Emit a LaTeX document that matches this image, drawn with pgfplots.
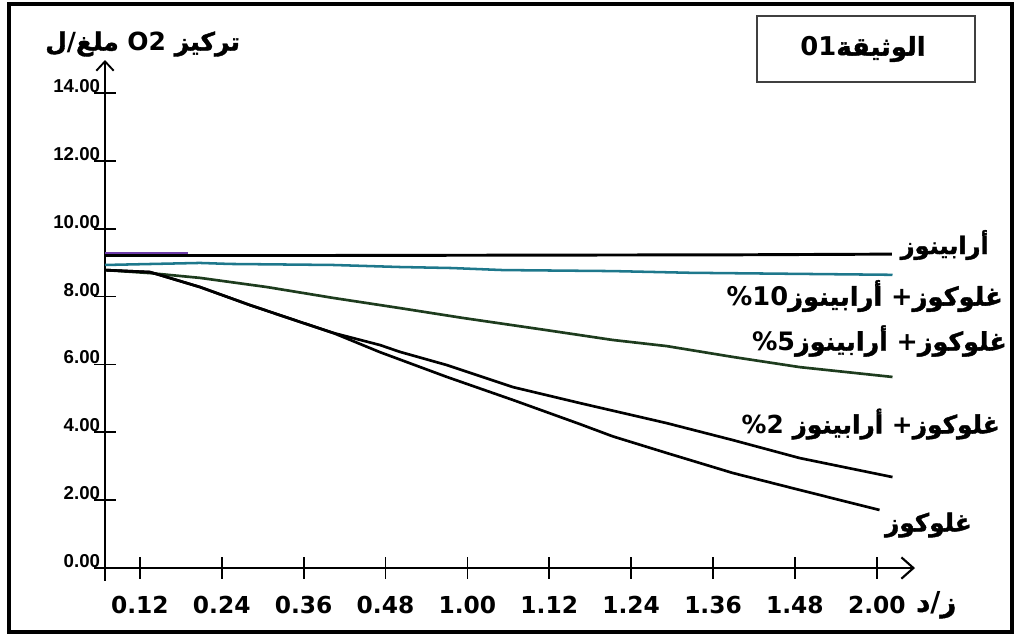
\documentclass[border=0pt]{standalone}
\usepackage{pgfplots}
\pgfplotsset{compat=1.18}
\usetikzlibrary{arrows.meta}
\usepackage{graphicx}
\usepackage{fontspec}
\setmainfont{DejaVu Sans}
\newfontfamily\ar[Script=Arabic, BoldFeatures={FakeBold=1.6}]{DejaVu Sans}
\newfontfamily\lib{Liberation Sans}
\newcommand{\AR}[1]{\mbox{\ar\bfseries #1}}
\newcommand{\PL}{\textbf{+}}
\definecolor{tealc}{RGB}{30,120,140}
\definecolor{greenc}{RGB}{30,60,30}
\definecolor{purplec}{RGB}{110,60,170}

\pgfplotstableread{
x y
6.89 9.21
40 9.21
70 9.22
100 9.23
122.2 9.25
}\arab
\pgfplotstableread{
x y
6.89 9.28
19 9.28
}\arabp
\pgfplotstableread{
x y
6.89 8.93
20.8 8.99
25.2 8.96
40.3 8.93
50.1 8.87
57.7 8.84
65.2 8.78
81.3 8.75
92.6 8.70
122.3 8.64
}\tenp
\pgfplotstableread{
x y
6.89 8.78
13.5 8.69
20.8 8.55
30.6 8.28
40.3 7.96
50.1 7.66
59.3 7.37
71.6 7.01
81.3 6.72
89.2 6.54
98.9 6.22
108.7 5.92
122.3 5.63
}\fivep
\pgfplotstableread{
x y
6.89 8.78
13.5 8.72
20.8 8.28
28.1 7.75
35.5 7.25
40.3 6.93
47.2 6.57
50.1 6.37
57.0 5.98
66.7 5.33
76.5 4.86
89.2 4.27
98.9 3.77
108.7 3.24
122.3 2.68
}\twop
\pgfplotstableread{
x y
6.89 8.78
13.5 8.72
20.8 8.28
28.1 7.75
35.5 7.25
40.3 6.93
47.2 6.36
57.0 5.63
66.7 4.95
76.5 4.24
81.3 3.88
89.2 3.39
98.9 2.80
108.7 2.30
120.4 1.71
}\gluc

\begin{document}
\begin{tikzpicture}
\path[use as bounding box] (0,0) rectangle (764.25pt,-477.75pt);
\begin{axis}[
  at={(78.75pt,-426pt)}, anchor=south west,
  scale only axis, width=607.5pt, height=381pt,
  xmin=6.89, xmax=125.6, ymin=0, ymax=14.97,
  axis x line=bottom, axis y line=left,
  axis line style={line width=1.8pt},
  x axis line style={-{Straight Barb[length=9pt,width=16pt,line width=1.6pt]}},
  y axis line style={-{Straight Barb[length=7pt,width=13pt,line width=1.4pt]}},
  xtick={12,24,...,120},
  xticklabels={0.12,0.24,0.36,0.48,1.00,1.12,1.24,1.36,1.48,2.00},
  ytick={0,2,...,14},
  yticklabels={0.00,2.00,4.00,6.00,8.00,10.00,12.00,14.00},
  tick align=center, major tick length=16pt,
  tick style={line width=1.3pt, black},
  xticklabel style={font=\fontsize{17.5}{20}\selectfont\bfseries, anchor=north, inner sep=0pt, yshift=-13pt},
  yticklabel style={font=\lib\fontsize{14}{16}\selectfont\bfseries, anchor=south east, inner sep=0pt, xshift=4.5pt},
  clip=false,
]
\draw[line width=1.8pt] (axis cs:6.89,0) -- (axis cs:6.89,-0.38);
\addplot[black, line width=2.2pt] table {\arab};
\addplot[purplec, line width=1.2pt] table {\arabp};
\addplot[tealc, line width=1.9pt] table {\tenp};
\addplot[greenc, line width=2pt] table {\fivep};
\addplot[black, line width=2pt] table {\twop};
\addplot[black, line width=2pt] table {\gluc};
\end{axis}
\begin{scope}[x=0.75pt,y=-0.75pt]
\draw[line width=3.5pt] (9,4) rectangle (1012,632);
\draw[line width=0.8pt, black!75] (757,16) rectangle (975,82);
\node[anchor=center, inner sep=0pt] at (863,49) {\resizebox{94pt}{!}{\fontsize{16}{18}\selectfont\bfseries 01\AR{الوثيقة}}};
\node[anchor=west, inner sep=0pt] at (45,44) {\resizebox{146pt}{!}{\fontsize{16}{18}\selectfont\bfseries \AR{ل}/\AR{ملغ} O2 \AR{تركيز}}};
\node[anchor=east, inner sep=0pt] at (989,245) {\resizebox{66pt}{!}{\fontsize{16}{18}\selectfont\bfseries \AR{أرابينوز}}};
\node[anchor=east, inner sep=0pt] at (1003,296) {\resizebox{207pt}{!}{\fontsize{16}{18}\selectfont\bfseries \%10\AR{أرابينوز} \PL\AR{غلوكوز}}};
\node[anchor=east, inner sep=0pt] at (1007,341) {\resizebox{191pt}{!}{\fontsize{16}{18}\selectfont\bfseries \%5\AR{أرابينوز} \PL\AR{غلوكوز}}};
\node[anchor=east, inner sep=0pt] at (1000,424) {\resizebox{193.5pt}{!}{\fontsize{16}{18}\selectfont\bfseries \%2 \AR{أرابينوز} \PL\AR{غلوكوز}}};
\node[anchor=east, inner sep=0pt] at (972,525) {\resizebox{65pt}{!}{\fontsize{16}{18}\selectfont\bfseries \AR{غلوكوز}}};
\node[anchor=west, inner sep=0pt] at (916,605) {\resizebox{30pt}{!}{\fontsize{16}{18}\selectfont\bfseries \AR{د}/\AR{ز}}};
\end{scope}
\end{tikzpicture}
\end{document}
